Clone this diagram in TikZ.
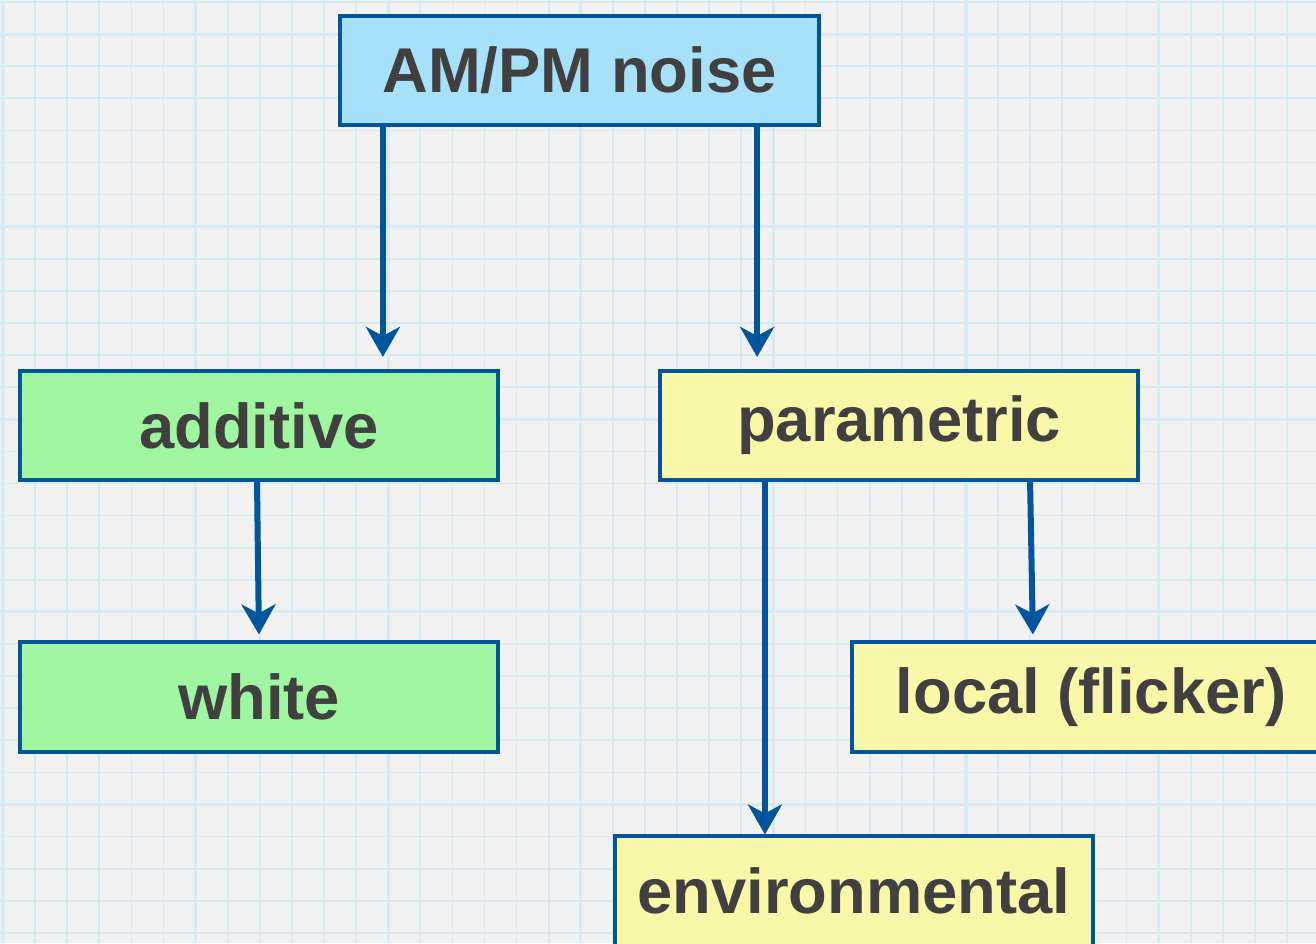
\documentclass[tikz,border=0pt]{standalone}
\usepackage{fontspec}
\setmainfont{Liberation Sans}
\usepackage{tikz}
\usetikzlibrary{arrows.meta, positioning}

\definecolor{edgeblue}{RGB}{0,85,155}
\definecolor{topfill}{RGB}{166,225,249}
\definecolor{addfill}{RGB}{160,245,160}
\definecolor{parfill}{RGB}{248,248,168}
\definecolor{labelgrey}{RGB}{64,64,64}
\definecolor{paper}{RGB}{242,242,242}
\definecolor{gridblue}{RGB}{218,234,242}

\tikzstyle{box} = [draw=edgeblue, line width=0.04cm, minimum width=4.78cm, minimum height=1.09cm,
  inner sep=0pt, text=labelgrey, font=\fontsize{18}{20}\selectfont\bfseries]
\tikzstyle{arrow} = [draw=edgeblue, line width=0.06cm, -{Stealth[length=0.3cm, width=0.34cm, inset=0.09cm]}]

\begin{document}
\begin{tikzpicture}[x=0.01cm, y=-0.01cm]
\useasboundingbox (0,0) rectangle (1316,943);
% paper background
\fill[paper] (0,0) rectangle (1316,943);
\foreach \gx in {3,35.1,...,1316} {
    \draw[gridblue, line width=0.5pt] (\gx,0) -- (\gx,943);
}
\foreach \gy in {2,34.1,...,943} {
    \draw[gridblue, line width=0.5pt] (0,\gy) -- (1316,\gy);
}
\foreach \gx in {3,195.6,...,1316} {
    \draw[gridblue, line width=0.9pt] (\gx,0) -- (\gx,943);
}
\foreach \gy in {34.1,226.7,...,943} {
    \draw[gridblue, line width=0.9pt] (0,\gy) -- (1316,\gy);
}

% boxes
\node[box, fill=topfill] (am) at (579.5,70.5) {AM/PM noise};
\node[box, fill=addfill] (add) at (259,425.5) {additive};
\node[box, fill=parfill] (par) at (899,425.5) {parametric};
\node[box, fill=addfill] (white) at (259,697) {white};
\node[box, fill=parfill] (loc) at (1091,697) {local (flicker)};
\node[box, fill=parfill] (env) at (854,891) {environmental};

% connectors
\draw[arrow, shorten >=0.12cm] ([xshift=-1.965cm]am.south) -- ([xshift=-1.965cm]am.south |- add.north);
\draw[arrow, shorten >=0.12cm] ([xshift=1.775cm]am.south) -- ([xshift=1.775cm]am.south |- par.north);
\draw[arrow, shorten >=0.06cm] ([xshift=-0.02cm]add.south) -- (white.north);
\draw[arrow] ([xshift=-1.34cm]par.south) -- ([xshift=-1.34cm]par.south |- env.north);
\draw[arrow, shorten >=0.06cm] ([xshift=1.31cm]par.south) -- ([xshift=-0.58cm]loc.north);
\end{tikzpicture}
\end{document}
